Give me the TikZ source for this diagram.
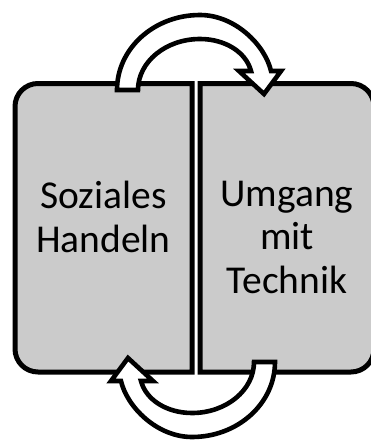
\documentclass[tikz,border=0pt]{standalone}
\usepackage{fontspec}
\setmainfont{Carlito}
\definecolor{boxgray}{RGB}{203,203,203}
\begin{document}
\begin{tikzpicture}[x=1pt,y=-1pt,
  boxstyle/.style={draw=black,fill=boxgray,line width=5pt},
  arrowstyle/.style={draw=black,fill=white,line width=4.6pt},
  label/.style={font=\fontsize{39.5}{43.5}\selectfont,align=center,anchor=base,inner sep=0pt},
  cyclearrow/.pic={
    \draw[arrowstyle] (138,90) .. controls (138,61.8) and (165.8,39) .. (200,39)
      .. controls (225,39) and (246,52) .. (251,71) -- (239,71) -- (264,94) -- (281,71) -- (271,71)
      .. controls (265,45) and (235,15) .. (200,15)
      .. controls (154,15) and (117,48.6) .. (117,90) -- cycle;
  }]
\useasboundingbox (0,0) rectangle (371,442);
% boxes
\draw[boxstyle] (103,83.5) [rounded corners=23pt] -- (15,83.5) -- (15,372) -- (103,372)
  [sharp corners] -- (192,372) -- (192,83.5) -- cycle;
\draw[boxstyle] (287,83.5) [rounded corners=23pt] -- (374,83.5) -- (374,372) -- (287,372)
  [sharp corners] -- (200,372) -- (200,83.5) -- cycle;
% texts (base anchor = baseline of the last line)
\node[label] (soz) at (103.5,252) {Soziales\\Handeln};
\node[label] (umg) at (287,293) {Umgang\\mit\\Technik};
% arrows
\pic at (0,0) {cyclearrow};
\pic[rotate=180] at (392,452) {cyclearrow};
\end{tikzpicture}
\end{document}
